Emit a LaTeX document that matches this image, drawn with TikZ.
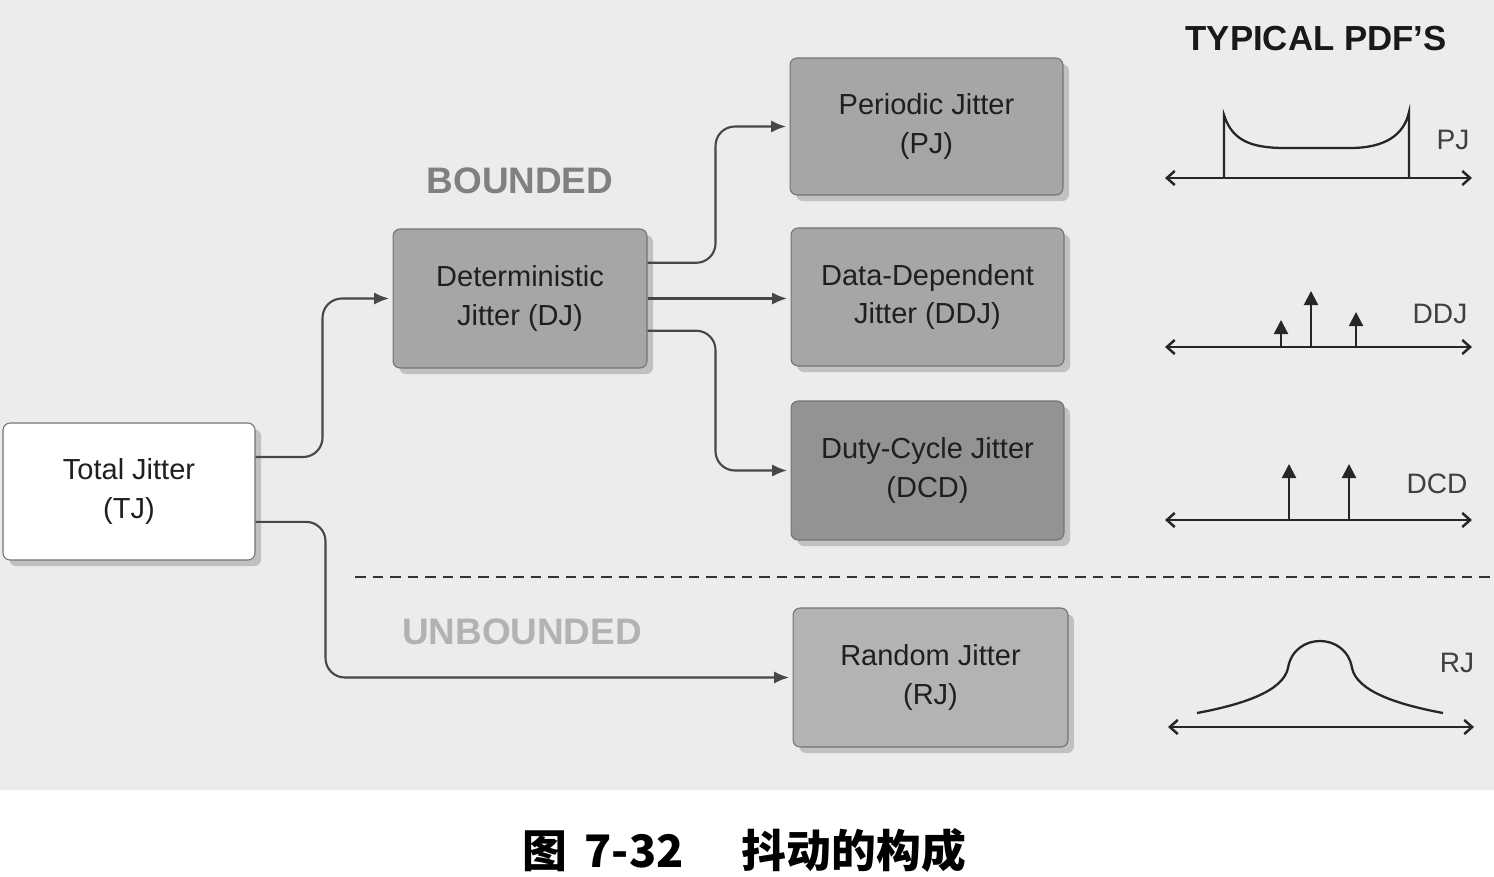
\documentclass[tikz,border=0pt]{standalone}
\usepackage{fontspec}
\setmainfont{Liberation Sans}
\newfontfamily\cjk{Noto Sans CJK SC}
\usetikzlibrary{arrows.meta,shadows,calc}
\definecolor{bg}{HTML}{ECECEC}
\definecolor{boxg}{HTML}{A6A6A6}
\definecolor{boxd}{HTML}{939393}
\definecolor{boxl}{HTML}{B3B3B3}
\tikzset{
  jbox/.style={rectangle, rounded corners=4pt, draw=black!55, line width=0.6pt,
    align=center, text=black!88, font=\fontsize{16.5pt}{22pt}\selectfont,
    drop shadow={shadow xshift=3.5pt, shadow yshift=-3.5pt, fill=black, opacity=0.18}},
  conn/.style={draw=black!72, line width=1.2pt, rounded corners=11pt,
    -{Latex[length=8.5pt,width=7pt]}},
  axis/.style={draw=black!85, line width=1.2pt, {Straight Barb[length=4.5pt,width=8pt,line width=1.4pt]}-{Straight Barb[length=4.5pt,width=8pt,line width=1.4pt]}},
  spike/.style={draw=black!85, line width=1.2pt, -{Triangle[length=8pt,width=8pt]}},
  curve/.style={draw=black!85, line width=1.3pt},
  pdflab/.style={text=black!75, font=\fontsize{16pt}{18pt}\selectfont},
  grouplab/.style={font=\bfseries\fontsize{21pt}{24pt}\selectfont}
}
\begin{document}
\begin{tikzpicture}[x=0.02cm,y=-0.02cm]
\useasboundingbox (0,0) rectangle (1494,876);
\fill[white] (0,0) rectangle (1494,876);
\fill[bg] (0,0) rectangle (1494,790);

% boxes
\node[jbox, fill=white, minimum width=5.04cm, minimum height=2.74cm] (tj) at (129,491.5) {Total Jitter\\(TJ)};
\node[jbox, fill=boxg, minimum width=5.08cm, minimum height=2.78cm] (dj) at (520,298.5) {Deterministic\\Jitter (DJ)};
\node[jbox, fill=boxg, minimum width=5.46cm, minimum height=2.74cm] (pj) at (926.5,126.5) {Periodic Jitter\\(PJ)};
\node[jbox, fill=boxg, minimum width=5.46cm, minimum height=2.76cm] (ddj) at (927.5,297) {Data-Dependent\\Jitter (DDJ)};
\node[jbox, fill=boxd, minimum width=5.46cm, minimum height=2.78cm] (dcd) at (927.5,470.5) {Duty-Cycle Jitter\\(DCD)};
\node[jbox, fill=boxl, minimum width=5.5cm, minimum height=2.78cm] (rj) at (930.5,677.5) {Random Jitter\\(RJ)};

% labels
\node[grouplab, text=black!50] (bounded) at (520,181) {BOUNDED};
\node[grouplab, text=black!30] (unbounded) at (522,632) {UNBOUNDED};
\node[font=\bfseries\fontsize{19.8pt}{22pt}\selectfont, text=black!90] (typ) at (1316,39) {TYPICAL PDF'S};

% connectors
\coordinate (tja) at ($(tj.north east)!0.25!(tj.south east)$);
\coordinate (tjb) at ($(tj.north east)!0.72!(tj.south east)$);
\coordinate (dja) at ($(dj.north east)!0.245!(dj.south east)$);
\coordinate (djc) at ($(dj.north east)!0.73!(dj.south east)$);
\draw[conn] (tja) -- ++(67,0) |- ([xshift=-2pt]dj.west);
\draw[conn] (tjb) -- ++(70,0) |- ([xshift=-2pt]rj.west);
\draw[conn] (dja) -- ++(68,0) |- ([xshift=-2pt]pj.west);
\draw[conn] (dj.east) -- ([xshift=-2pt]dj.east -| ddj.west);
\draw[conn] (djc) -- ++(68,0) |- ([xshift=-2pt]dcd.west);

% dashed separator
\draw[draw=black!80, line width=1.1pt, dash pattern=on 6pt off 4pt] (355,577) -- (1494,577);

% PJ pdf
\draw[axis] (1165,178) -- (1472,178);
\draw[curve] (1224,178) -- (1224,115) .. controls (1232,140) and (1250,148) .. (1285,148) -- (1350,148) .. controls (1385,148) and (1404,135) .. (1409,112) -- (1409,178);
\node[pdflab] (pjl) at (1453,140) {PJ};

% DDJ pdf
\draw[axis] (1165,347) -- (1472,347);
\draw[spike] (1281,347) -- (1281,320);
\draw[spike] (1311,347) -- (1311,291);
\draw[spike] (1356,347) -- (1356,312);
\node[pdflab] (ddjl) at (1440,314) {DDJ};

% DCD pdf
\draw[axis] (1165,520) -- (1472,520);
\draw[spike] (1289,520) -- (1289,464);
\draw[spike] (1349,520) -- (1349,464);
\node[pdflab] (dcdl) at (1437,484) {DCD};

% RJ pdf
\draw[axis] (1168,727) -- (1474,727);
\draw[curve] (1197,713) .. controls (1240,705) and (1283,692) .. (1288,668) .. controls (1294,632) and (1346,632) .. (1352,668) .. controls (1357,692) and (1400,705) .. (1443,713);
\node[pdflab] (rjl) at (1457,663) {RJ};

% caption
\node[font=\cjk\bfseries\fontsize{25.5pt}{30pt}\selectfont] (cap) at (744,850) {图\hspace{0.4em}7-32\hspace{1.3em}抖动的构成};
\end{tikzpicture}
\end{document}
